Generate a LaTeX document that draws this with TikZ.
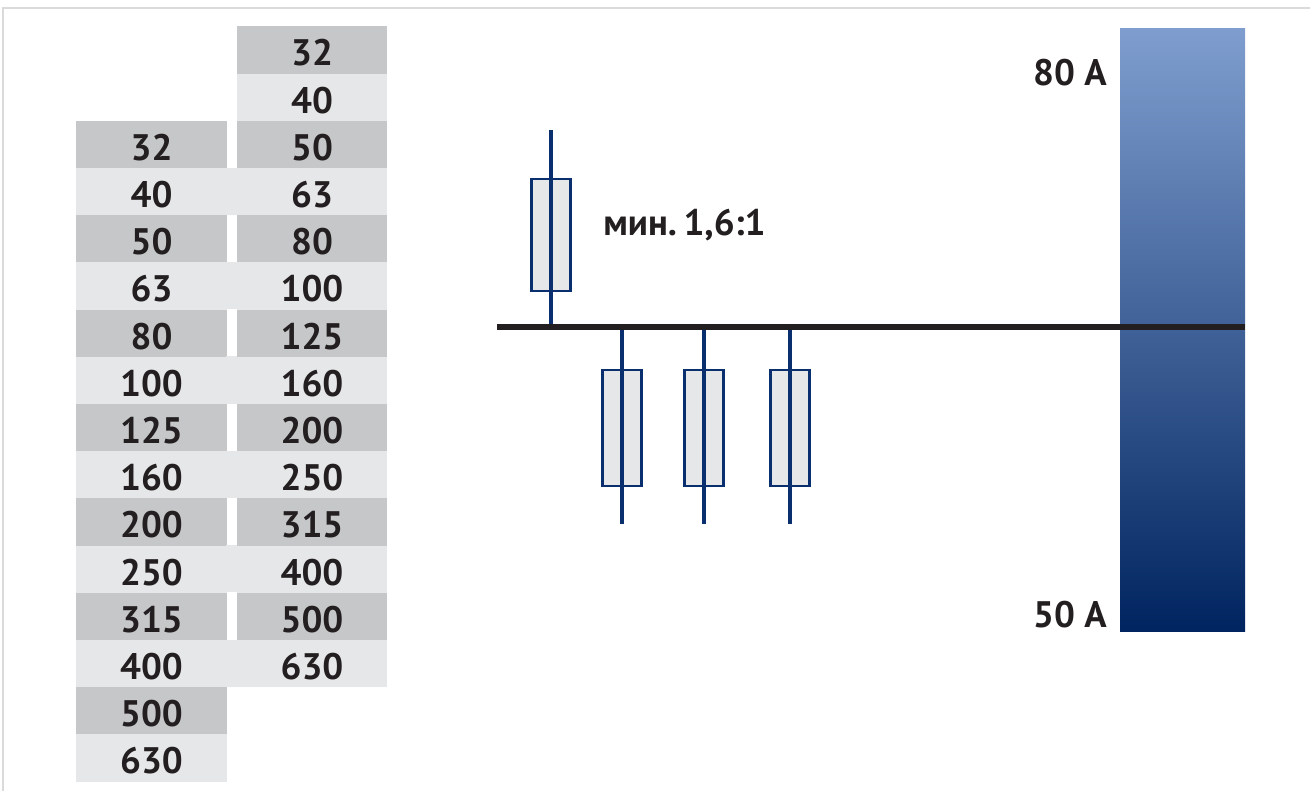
\documentclass[tikz,border=0pt]{standalone}
\usepackage{fontspec}
\setmainfont{PT Sans}
\definecolor{dunkelgrau}{HTML}{C6C7C8}
\definecolor{hellgrau}{HTML}{E6E7E8}
\definecolor{marine}{HTML}{0A2F6E}
\definecolor{schrift}{HTML}{231F20}
\definecolor{rahmen}{HTML}{DADADA}
\definecolor{balkenoben}{HTML}{7F9ECF}
\definecolor{balkenunten}{HTML}{00245F}

\begin{document}
\begin{tikzpicture}
	[
	x=0.02cm, y=-0.02cm, font=\fontsize{21}{25}\selectfont\bfseries, text=schrift,
	%Voreinstellungen
	zelle/.style={minimum width=3.02cm, minimum height=0.944cm, inner sep=0pt, text height=0.64cm, text depth=0pt, anchor=north},
	sicherung/.style={draw=marine, fill=hellgrau, line width=1.6pt, minimum width=0.77cm, inner sep=0pt},
	leitung/.style={marine, line width=2.7pt}
	]
	\useasboundingbox (0,0) rectangle (1310,791);
	%Rahmen
	\draw[rahmen, line width=0.04cm] (3,791) -- (3,8) -- (1310,8);
	%Tabelle
	\foreach \w [count=\i from 0] in {32,40,50,63,80,100,125,160,200,250,315,400,500,630}
	{
		\pgfmathsetmacro\ro{26+\i*47.2}
		\ifodd\i \def\farbe{hellgrau}\else\def\farbe{dunkelgrau}\fi
		\ifodd\i \ifnum\i>2 \fill[hellgrau] (226,\ro) rectangle (237,\ro+47.2); \fi \fi
		\node[zelle, fill=\farbe] (r\i) at (312,\ro) {\w};
		\node[zelle, fill=\farbe] (l\i) at (151.5,\ro+94.4) {\w};
	}
	%Balken
	\node[minimum width=2.5cm, minimum height=12.08cm, inner sep=0pt, top color=balkenoben, bottom color=balkenunten] (balken) at (1182.5,330) {};
	\node[anchor=base east, inner sep=0pt] (oben) at (1107,85) {80 A};
	\node[anchor=base east, inner sep=0pt] (unten) at (1107,627) {50 A};
	%Sicherungen
	\node[sicherung, minimum height=2.24cm] (f1) at (551,235) {};
	\node[sicherung, minimum height=2.32cm] (f2) at (622,428) {};
	\node[sicherung, minimum height=2.32cm] (f3) at (704,428) {};
	\node[sicherung, minimum height=2.32cm] (f4) at (790,428) {};
	\coordinate (sl) at (497,327);
	\coordinate (sr) at (1245,327);
	\coordinate (f1o) at (551,130);
	\coordinate (f2u) at (622,524);
	\coordinate (f3u) at (704,524);
	\coordinate (f4u) at (790,524);
	\draw[leitung] (f1o) -- (f1o |- sl);
	\draw[leitung] (f2u) -- (f2u |- sl);
	\draw[leitung] (f3u) -- (f3u |- sl);
	\draw[leitung] (f4u) -- (f4u |- sl);
	%Sammelschiene
	\draw[schrift, line width=3.2pt] (sl) -- (sr);
	\node[anchor=base west, inner sep=0pt] (verh) at (603,235) {мин.\hspace{0.18em}1,6:1};
\end{tikzpicture}
\end{document}
